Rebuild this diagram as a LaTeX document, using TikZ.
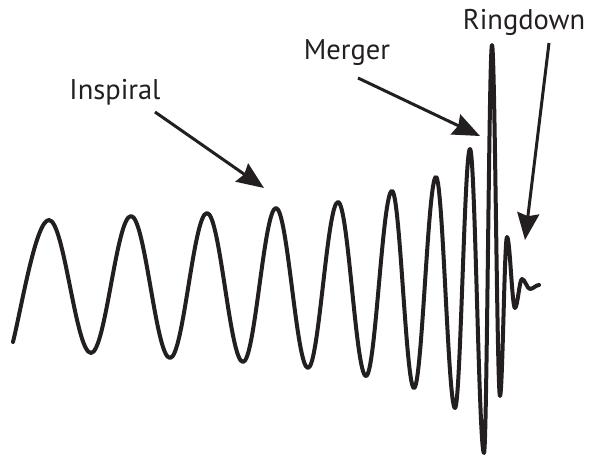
\documentclass[tikz,border=0pt]{standalone}
\usepackage{fontspec}
\setmainfont{PT Sans}
\usetikzlibrary{arrows.meta}
\definecolor{ink}{HTML}{231F20}
\tikzset{
  wave/.style={draw=ink, line width=4pt, line join=round, line cap=round},
  arr/.style={draw=ink, line width=3pt, -{Stealth[length=27pt,width=22pt,inset=3pt]}},
  lbl/.style={text=ink, font=\fontsize{28.5}{31}\selectfont, inner sep=0pt}
}
\begin{document}
\begin{tikzpicture}[x=1pt,y=-1pt]
\useasboundingbox (0,0) rectangle (590,459);
% labels
\node[lbl] (insp) at (115,92) {Inspiral};
\node[lbl] (merg) at (347,53) {Merger};
\node[lbl] (ring) at (524,22) {Ringdown};
% arrow ends
\coordinate (inspA) at (155,112);
\coordinate (inspB) at (264,188);
\coordinate (mergA) at (358,78);
\coordinate (mergB) at (480,136);
\coordinate (ringA) at (549,43);
\coordinate (ringB) at (525,240);
\draw[arr] (inspA) -- (inspB);
\draw[arr] (mergA) -- (mergB);
\draw[arr] (ringA) -- (ringB);
% waveform
\draw[wave] (13,342)
 .. controls (22,305) and (36,220) .. (49,220)
 .. controls (64.3,220) and (75.7,353) .. (91,353)
 .. controls (105.6,353) and (116.4,216) .. (131,216)
 .. controls (145.2,216) and (155.8,358) .. (170,358)
 .. controls (183.5,358) and (193.5,213) .. (207,213)
 .. controls (220.1,213) and (229.9,362) .. (243,362)
 .. controls (255,362) and (264,208) .. (276,208)
 .. controls (287.6,208) and (296.4,368) .. (308,368)
 .. controls (318.9,368) and (327.1,202) .. (338,202)
 .. controls (348.2,202) and (355.8,376) .. (366,376)
 .. controls (375.5,376) and (382.5,191) .. (392,191)
 .. controls (400,191) and (406,388) .. (414,388)
 .. controls (422,388) and (428,177) .. (436,177)
 .. controls (442.9,177) and (448.1,408) .. (455,408)
 .. controls (460.5,408) and (464.5,149) .. (470,149)
 .. controls (475.1,149) and (478.9,453) .. (484,453)
 .. controls (486.9,453) and (489.1,45) .. (492,45)
 .. controls (494.9,45) and (497.1,396) .. (500,396)
 .. controls (502.5,396) and (504.5,237) .. (507,237)
 .. controls (509.9,237) and (512.1,308) .. (515,308)
 .. controls (517.5,308) and (519.5,279) .. (522,279)
 .. controls (524.9,279) and (527.1,289) .. (530,289)
 .. controls (533,289) and (536,285) .. (539,285);
\end{tikzpicture}
\end{document}
